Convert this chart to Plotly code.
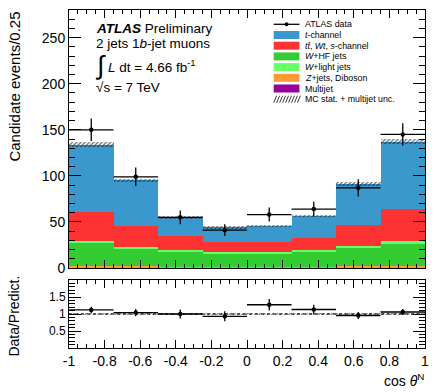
import numpy as np
import plotly.graph_objects as go

# ---------------- data ----------------
bin_edges = [-1.0, -0.75, -0.5, -0.25, 0.0, 0.25, 0.5, 0.75, 1.0]
multijet = [1.0, 0.8, 0.6, 0.5, 0.5, 0.6, 0.8, 1.0]
zjets_diboson = [1.5, 1.2, 1.0, 0.9, 0.9, 1.0, 1.2, 1.5]
w_hf = [24.3, 19.0, 16.4, 14.6, 14.6, 16.4, 20.0, 23.5]
w_light = [2.9, 2.0, 1.6, 1.4, 1.4, 1.6, 2.0, 3.3]
ttbar_wt_s = [30.8, 22.6, 15.2, 10.6, 10.6, 13.4, 22.7, 34.5]
t_channel = [73.5, 49.4, 20.2, 16.0, 17.6, 23.5, 44.3, 73.2]
mc_unc = [2.5, 2.0, 1.5, 1.5, 1.5, 1.5, 2.0, 2.5]
data = [150, 99, 55, 41, 58, 64, 87, 145]

x_tick_vals = [-1, -0.8, -0.6, -0.4, -0.2, 0, 0.2, 0.4, 0.6, 0.8, 1]
x_tick_text = ["-1", "-0.8", "-0.6", "-0.4", "-0.2", "0", "0.2", "0.4", "0.6", "0.8", "1"]
y_tick_vals = [0, 50, 100, 150, 200, 250]
y_tick_text = ["0", "50", "100", "150", "200", "250"]
r_tick_vals = [0.5, 1, 1.5]
r_tick_text = ["0.5", "1", "1.5"]

# ---------------- derived ----------------
edges = np.array(bin_edges)
centers = 0.5 * (edges[1:] + edges[:-1])
widths = edges[1:] - edges[:-1]

components = [
    ("Multijet", multijet, "#990099"),
    ("Z+jets, Diboson", zjets_diboson, "#ff9933"),
    ("W+HF jets", w_hf, "#33cc33"),
    ("W+light jets", w_light, "#66ff66"),
    ("ttbar", ttbar_wt_s, "#fd3333"),
    ("t-channel", t_channel, "#3a98cd"),
]

FONT = "Liberation Sans, Arial, Helvetica, sans-serif"
fig = go.Figure()

base = np.zeros(len(centers))
for name, vals, col in components:
    v = np.array(vals, dtype=float)
    fig.add_trace(go.Bar(x=centers, y=v, base=base.copy(), width=widths,
                         marker=dict(color=col, line=dict(width=0)),
                         xaxis="x", yaxis="y", showlegend=False, hoverinfo="skip"))
    base = base + v
total = base
unc = np.array(mc_unc)

hatch = dict(color="rgba(0,0,0,0)", line=dict(width=0),
             pattern=dict(shape="/", fgcolor="#000000", bgcolor="rgba(0,0,0,0)",
                          size=3, solidity=0.5, fillmode="overlay"))
fig.add_trace(go.Bar(x=centers, y=2 * unc, base=total - unc, width=widths,
                     marker=hatch, xaxis="x", yaxis="y", showlegend=False, hoverinfo="skip"))

d = np.array(data, dtype=float)
derr = np.sqrt(d)
fig.add_trace(go.Scatter(x=centers, y=d, mode="markers",
                         marker=dict(color="black", size=4.5),
                         error_x=dict(type="data", array=widths / 2, width=0, thickness=1.3, color="black"),
                         error_y=dict(type="data", array=derr, width=0, thickness=1.3, color="black"),
                         xaxis="x", yaxis="y", showlegend=False, hoverinfo="skip"))

# ratio panel
ratio = d / total
rerr = derr / total
runc = unc / total
fig.add_trace(go.Bar(x=centers, y=2 * runc, base=1 - runc, width=widths,
                     marker=hatch, xaxis="x2", yaxis="y2", showlegend=False, hoverinfo="skip"))
fig.add_shape(type="line", xref="x2", yref="y2", x0=edges[0], x1=edges[-1], y0=1, y1=1,
              line=dict(color="black", width=1, dash="dot"))
fig.add_trace(go.Scatter(x=centers, y=ratio, mode="markers",
                         marker=dict(color="black", size=4.5),
                         error_x=dict(type="data", array=widths / 2, width=0, thickness=1.3, color="black"),
                         error_y=dict(type="data", array=rerr, width=0, thickness=1.3, color="black"),
                         xaxis="x2", yaxis="y2", showlegend=False, hoverinfo="skip"))

# ---------------- layout ----------------
W, H = 437, 392
ML, MR, MT, MB = 69, 8, 10, 44
PW, PH = W - ML - MR, H - MT - MB


def px(xp):
    return (xp - ML) / PW


def py(yp):
    return (H - MB - yp) / PH


axis_common = dict(showgrid=False, zeroline=False, showline=True, linecolor="black",
                   linewidth=1, mirror="allticks", ticks="inside", tickcolor="black",
                   tickwidth=1)

fig.update_layout(
    width=W, height=H, margin=dict(l=ML, r=MR, t=MT, b=MB),
    paper_bgcolor="white", plot_bgcolor="white", barmode="overlay", bargap=0,
    font=dict(family=FONT, color="black", size=14),
    xaxis=dict(domain=[0, 1], anchor="y", range=[-1, 1], tickvals=x_tick_vals,
               showticklabels=False, ticklen=8,
               minor=dict(ticks="inside", dtick=0.05, ticklen=4, tickcolor="black"),
               **axis_common),
    yaxis=dict(domain=[py(268), 1], anchor="x", range=[0, 280], tickvals=y_tick_vals,
               ticktext=y_tick_text, ticklen=12, tickfont=dict(size=14),
               minor=dict(ticks="inside", dtick=10, ticklen=6, tickcolor="black"),
               **axis_common),
    xaxis2=dict(domain=[0, 1], anchor="y2", range=[-1, 1], tickvals=x_tick_vals,
                ticktext=x_tick_text, ticklen=8, tickfont=dict(size=14),
                minor=dict(ticks="inside", dtick=0.05, ticklen=4, tickcolor="black"),
                **axis_common),
    yaxis2=dict(domain=[0, py(280)], anchor="x2", range=[0, 2], tickvals=r_tick_vals,
                ticktext=r_tick_text, ticklen=12, tickfont=dict(size=12),
                minor=dict(ticks="inside", dtick=0.1, ticklen=6, tickcolor="black"),
                **axis_common),
)

ann = []


def text(xp, yp, s, size, xanchor="left", yanchor="middle", angle=0, color="black"):
    ann.append(dict(x=px(xp), y=py(yp), xref="paper", yref="paper", text=s,
                    showarrow=False, xanchor=xanchor, yanchor=yanchor, textangle=angle,
                    font=dict(size=size, family=FONT, color=color)))


# axis titles
text(13, 10, "Candidate events/0.25", 15, xanchor="center", yanchor="top", angle=-90)
text(13, 316, "Data/Predict.", 14, xanchor="center", yanchor="middle", angle=-90)
text(430, 380, "cos <i>θ</i><sup>N</sup>", 14, xanchor="right", yanchor="middle")

# ATLAS label
text(94, 28, "<b><i>ATLAS</i></b> Preliminary", 13.5)
text(94, 43, "2 jets 1<i>b</i>-jet muons", 13.5)
text(93, 65, "∫", 26)
text(106, 66, "<i>L</i> dt = 4.66 fb<sup>-1</sup>", 13.5)
text(94, 88, "√s = 7 TeV", 13.5)

# legend (manual)
row0, drow = 24.3, 10.7
bx0, bx1, bh = 276, 302, 8
tx = 306
leg = [
    ("data", "ATLAS data", None),
    ("box", "<i>t</i>-channel", "#3a98cd"),
    ("box", "<i>tt̄</i>, <i>Wt</i>, <i>s</i>-channel", "#fd3333"),
    ("box", "<i>W</i>+HF jets", "#33cc33"),
    ("box", "<i>W</i>+light jets", "#66ff66"),
    ("box", "<i>Z</i>+jets, Diboson", "#ff9933"),
    ("box", "Multijet", "#990099"),
    ("hatch", "MC stat. + multijet unc.", None),
]
shapes = []
for i, (kind, label, col) in enumerate(leg):
    yc = row0 + i * drow
    if kind == "data":
        shapes.append(dict(type="line", xref="paper", yref="paper", x0=px(bx0), x1=px(bx1),
                           y0=py(yc), y1=py(yc), line=dict(color="black", width=1.3)))
        shapes.append(dict(type="circle", xref="paper", yref="paper", x0=px(287), x1=px(291),
                           y0=py(yc + 2), y1=py(yc - 2), fillcolor="black",
                           line=dict(color="black", width=0)))
    elif kind == "box":
        shapes.append(dict(type="rect", xref="paper", yref="paper", x0=px(bx0), x1=px(bx1),
                           y0=py(yc + bh / 2), y1=py(yc - bh / 2), fillcolor=col,
                           line=dict(width=0)))
    else:
        for k in range(9):
            xs = bx0 + k * 3
            shapes.append(dict(type="line", xref="paper", yref="paper", x0=px(xs),
                               x1=px(xs + 3), y0=py(yc + 3.5), y1=py(yc - 3.5),
                               line=dict(color="#222222", width=0.9)))
    text(tx, yc, label, 8.8)

fig.update_layout(annotations=ann)
for s in shapes:
    fig.add_shape(**s)

fig.write_html("out.html")
